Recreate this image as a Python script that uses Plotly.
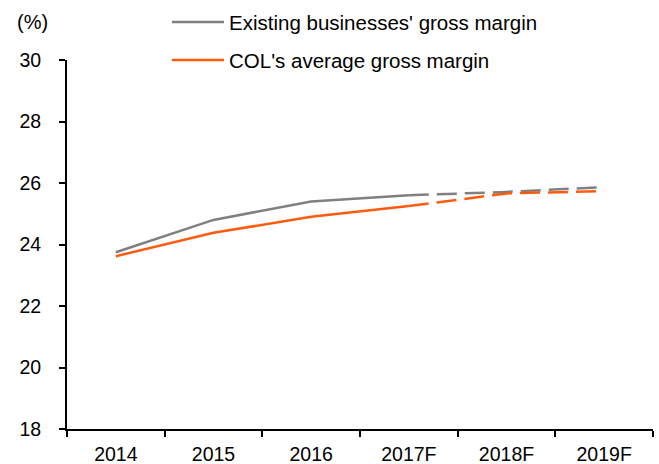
import plotly.graph_objects as go

years = ["2014", "2015", "2016", "2017F", "2018F", "2019F"]
existing_margin = [23.75, 24.80, 25.40, 25.60, 25.71, 25.87]
col_margin = [23.62, 24.38, 24.90, 25.25, 25.66, 25.74]
n_actual = 4  # 2014..2017F drawn solid, 2017F onwards dashed

GREY = "#808080"
ORANGE = "#FF5B0F"
FONT = "Liberation Sans, Arial, sans-serif"
FS = 19

fig = go.Figure()

for vals, color in [(existing_margin, GREY), (col_margin, ORANGE)]:
    fig.add_trace(go.Scatter(
        x=years[:n_actual], y=vals[:n_actual],
        mode="lines", line=dict(color=color, width=2.5),
        showlegend=False, hoverinfo="skip"))
    fig.add_trace(go.Scatter(
        x=years[n_actual - 1:], y=vals[n_actual - 1:],
        mode="lines", line=dict(color=color, width=2.5, dash="20px,8px"),
        showlegend=False, hoverinfo="skip"))

# hand drawn legend, like the original
legend_items = [("Existing businesses' gross margin", GREY, 22),
                ("COL's average gross margin", ORANGE, 60)]
for label, color, ypx in legend_items:
    yp = 1 - (ypx - 60) / 369.0
    fig.add_shape(type="line", xref="paper", yref="paper",
                  x0=(172 - 67) / 586.0, x1=(224 - 67) / 586.0, y0=yp, y1=yp,
                  line=dict(color=color, width=2.5))
    fig.add_annotation(text=label, xref="paper", yref="paper",
                       x=(227 - 67) / 586.0, y=yp, xanchor="left", yanchor="middle",
                       showarrow=False, font=dict(size=20.5, color="black"))

fig.add_annotation(text="(%)", xref="paper", yref="paper",
                   x=(15 - 67) / 586.0, y=1 - (22 - 60) / 369.0,
                   xanchor="left", yanchor="middle", showarrow=False,
                   font=dict(size=20, color="black"))

fig.update_layout(
    width=659, height=464,
    margin=dict(l=67, r=6, t=60, b=35),
    paper_bgcolor="white", plot_bgcolor="white",
    font=dict(family=FONT, size=FS, color="black"),
)
fig.update_xaxes(
    type="category", range=[-0.5, 5.5], showgrid=False, zeroline=False,
    showline=True, linecolor="black", linewidth=2,
    ticks="outside", tickson="boundaries", ticklen=6, tickwidth=2, tickcolor="black",
    ticklabelstandoff=7, automargin=False, tickfont=dict(size=19.5),
)
fig.update_yaxes(
    range=[18, 30], dtick=2, showgrid=False, zeroline=False,
    showline=True, linecolor="black", linewidth=2,
    ticks="outside", ticklen=6, tickwidth=2, tickcolor="black",
    ticklabelstandoff=14, automargin=False, tickfont=dict(size=19.5),
)

fig.write_html("out.html", config={"displayModeBar": False},
               post_script="document.body.style.margin='0';")
